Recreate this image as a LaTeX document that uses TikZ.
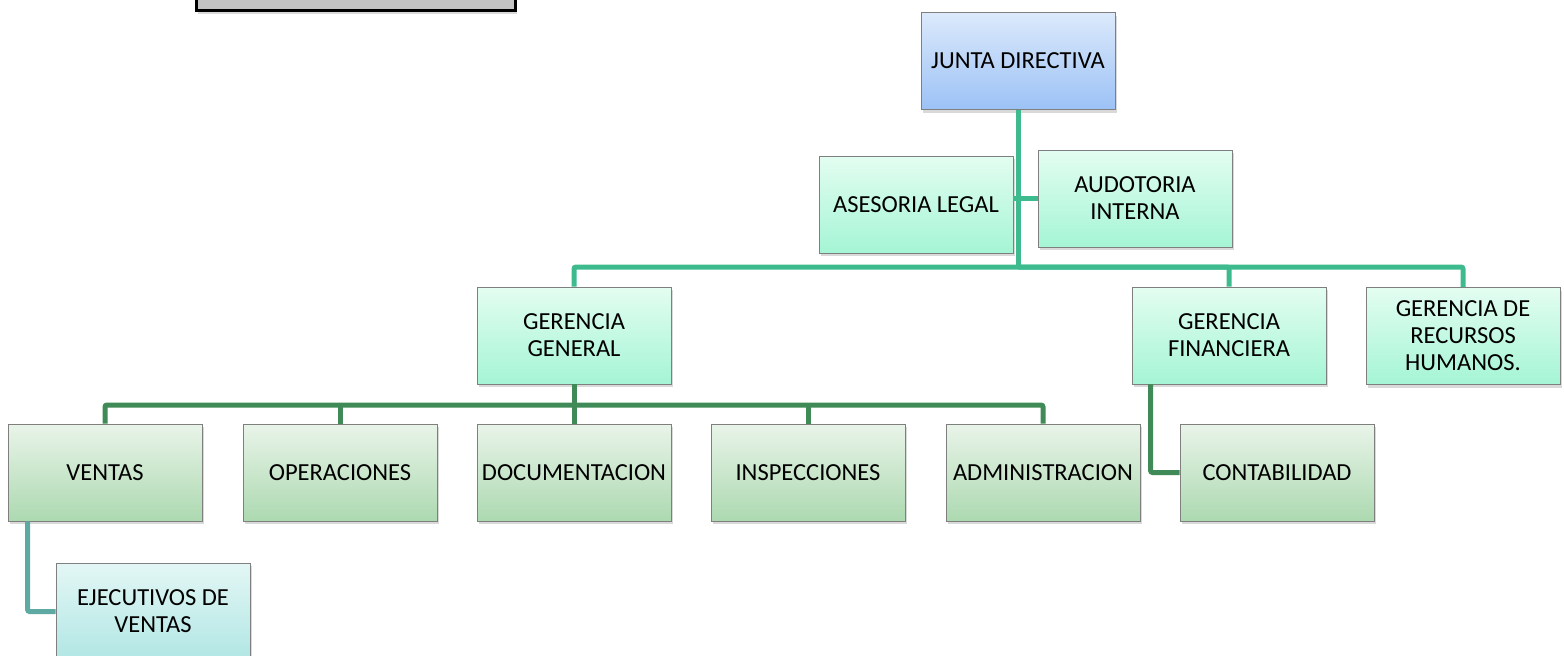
\documentclass[tikz,border=0pt]{standalone}
\usepackage{fontspec}
\setmainfont{Carlito}
\usepackage{tikz}
\usetikzlibrary{shadows}

\definecolor{boxline}{HTML}{7F7F7F}
\definecolor{blueTop}{HTML}{DCE9FB}
\definecolor{blueBot}{HTML}{9CC2F6}
\definecolor{mintTop}{HTML}{E3FDF1}
\definecolor{mintBot}{HTML}{A5F5D5}
\definecolor{greenTop}{HTML}{E9F4E9}
\definecolor{greenBot}{HTML}{ACD9B0}
\definecolor{tealTop}{HTML}{E3F7F5}
\definecolor{tealBot}{HTML}{B1E6E4}
\definecolor{upcol}{HTML}{3DBB8F}
\definecolor{lowcol}{HTML}{3F8A56}
\definecolor{ejcol}{HTML}{5EA9A1}
\definecolor{graybox}{HTML}{C4C4C4}

\begin{document}
\begin{tikzpicture}[x=1pt, y=-1pt,
	unit/.style={shape=rectangle, draw=boxline, line width=0.8pt,
		minimum width=194pt, minimum height=97pt, align=center,
		font=\fontsize{24.5}{27}\selectfont,
		drop shadow={shadow xshift=2pt, shadow yshift=-3pt, opacity=0.3}},
	board/.style={unit, top color=blueTop, bottom color=blueBot},
	upper/.style={unit, top color=mintTop, bottom color=mintBot},
	lower/.style={unit, top color=greenTop, bottom color=greenBot},
	staff/.style={unit, top color=tealTop, bottom color=tealBot},
	upline/.style={draw=upcol, line width=5pt, rounded corners=2pt},
	lowline/.style={draw=lowcol, line width=5pt, rounded corners=2pt},
	ejline/.style={draw=ejcol, line width=5pt, rounded corners=2pt}]
	
	\useasboundingbox (0, 0) rectangle (1564, 656);
	
	\node[shape=rectangle, draw=black, line width=3pt, fill=graybox,
		minimum width=319pt, minimum height=60pt,
		drop shadow={shadow xshift=2pt, shadow yshift=-4pt, opacity=0.3}] (title) at (355.5, -20) {};
	
	\node[board] (jd)     at (1018, 61)    {JUNTA DIRECTIVA};
	\node[upper] (al)     at (916, 204.5)  {ASESORIA LEGAL};
	\node[upper] (ai)     at (1135, 198.5) {AUDOTORIA\\INTERNA};
	\node[upper] (gg)     at (574, 335.5)  {GERENCIA\\GENERAL};
	\node[upper] (gf)     at (1229, 335.5) {GERENCIA\\FINANCIERA};
	\node[upper] (grh)    at (1463, 336)   {GERENCIA DE\\RECURSOS\\HUMANOS.};
	
	\node[lower] (ventas) at (105, 472.5)  {VENTAS};
	\node[lower] (oper)   at (340, 472.5)  {OPERACIONES};
	\node[lower] (doc)    at (574, 472.5)  {DOCUMENTACION};
	\node[lower] (insp)   at (808, 472.5)  {INSPECCIONES};
	\node[lower] (adm)    at (1043, 472.5) {ADMINISTRACION};
	\node[lower] (cont)   at (1277, 472.5) {CONTABILIDAD};
	
	\node[staff] (ejec)   at (153, 611.5)  {EJECUTIVOS DE\\VENTAS};
	
	\coordinate (hub)   at (1018, 267);
	\coordinate (ggbus) at (574, 405);
	
	\path[upline] (jd.south) -- (hub);
	\path[upline] (ai.west) -- (ai.west -| al.east);
	\path[upline] (gg.north) |- (hub) -| (grh.north);
	\path[upline] (hub) -| (gf.north);
	
	\path[lowline] (gg.south) -- (doc.north);
	\path[lowline] (ventas.north) |- (ggbus) -| (adm.north);
	\path[lowline] (oper.north) -- (oper.north |- ggbus);
	\path[lowline] (insp.north) -- (insp.north |- ggbus);
	\path[lowline] ([xshift=19pt]gf.south west) |- (cont.west);
	
	\path[ejline] ([xshift=20pt]ventas.south west) |- (ejec.west);

\end{tikzpicture}
\end{document}
